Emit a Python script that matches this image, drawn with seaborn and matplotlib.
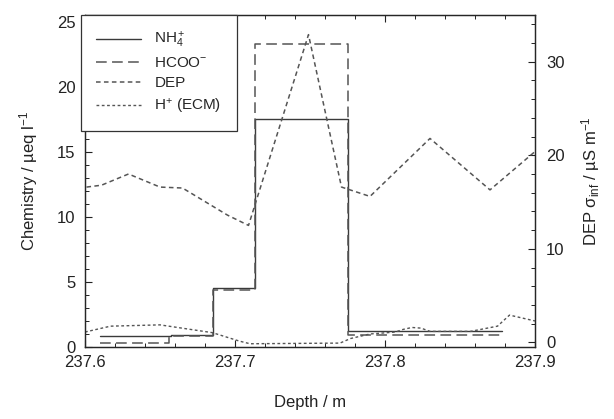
import numpy as np
import pandas as pd
import matplotlib
matplotlib.use("Agg")
import matplotlib.pyplot as plt
from matplotlib.ticker import MultipleLocator, FixedLocator
import seaborn as sns

# ---- data ----
nh4_depth = [237.610, 237.657, 237.685, 237.713, 237.775, 237.878]
nh4_value = [0.85, 0.95, 4.55, 17.5, 1.2, 1.2]

hcoo_depth = [237.610, 237.656, 237.685, 237.713, 237.775, 237.877]
hcoo_value = [0.3, 0.85, 4.4, 23.3, 0.9, 0.9]

dep_depth = [237.601, 237.611, 237.629, 237.650, 237.665, 237.695, 237.709,
             237.749, 237.771, 237.790, 237.830, 237.870, 237.900]
dep_value = [16.6, 16.8, 18.0, 16.6, 16.5, 13.6, 12.5,
             32.9, 16.6, 15.6, 21.8, 16.3, 20.4]

h_depth = [237.600, 237.617, 237.650, 237.685, 237.703, 237.710, 237.770,
           237.777, 237.790, 237.807, 237.812, 237.818, 237.824, 237.830,
           237.857, 237.875, 237.883, 237.900]
h_value = [1.15, 1.6, 1.7, 1.1, 0.45, 0.25, 0.3,
           0.65, 1.0, 1.15, 1.35, 1.5, 1.45, 1.2,
           1.2, 1.6, 2.45, 2.0]

x_ticks = [237.6, 237.7, 237.8, 237.9]
x_tick_labels = ["237.6", "237.7", "237.8", "237.9"]
left_ticks = [0, 5, 10, 15, 20, 25]
right_ticks = [0, 10, 20, 30]

# ---- style ----
sns.set_style("ticks")
plt.rcParams["font.family"] = ["Liberation Sans", "DejaVu Sans"]
plt.rcParams["mathtext.fontset"] = "custom"
plt.rcParams["mathtext.rm"] = "Liberation Sans"
plt.rcParams["mathtext.it"] = "Liberation Sans:italic"
plt.rcParams["axes.linewidth"] = 0.9

fig = plt.figure(figsize=(6.14, 4.19), dpi=100)
ax = fig.add_axes([85/614, 1-347/419, 450/614, (347-15)/419])
ax2 = ax.twinx()

dark = "#3a3a3a"
mid = "#555555"

sns.lineplot(x=nh4_depth, y=nh4_value, ax=ax, color=dark, lw=1.0,
             drawstyle="steps-post", label="NH$_4^+$", legend=False)
sns.lineplot(x=hcoo_depth, y=hcoo_value, ax=ax, color=mid, lw=1.1,
             drawstyle="steps-post", linestyle=(0, (7, 3.5)), label="HCOO$^{-}$", legend=False)
sns.lineplot(x=dep_depth, y=dep_value, ax=ax2, color=mid, lw=1.1,
             linestyle=(0, (3, 2.2)), label="DEP", legend=False)
sns.lineplot(x=h_depth, y=h_value, ax=ax, color=mid, lw=1.0,
             linestyle=(0, (2, 1.8)), label="H$^{+}$ (ECM)", legend=False)

ax.set_xlim(237.6, 237.9)
ax.set_ylim(0, 25.5)
ax2.set_ylim(-0.5, 35)

ax.xaxis.set_major_locator(FixedLocator(x_ticks))
ax.set_xticklabels(x_tick_labels)
ax.xaxis.set_minor_locator(MultipleLocator(0.02))
ax.yaxis.set_major_locator(FixedLocator(left_ticks))
ax.yaxis.set_minor_locator(MultipleLocator(1))
ax2.yaxis.set_major_locator(FixedLocator(right_ticks))
ax2.yaxis.set_minor_locator(MultipleLocator(2))

ax.tick_params(axis="both", which="both", direction="in", top=True, right=False,
               labelsize=12, colors="#222222")
ax.tick_params(axis="both", which="major", length=5, width=0.8)
ax.tick_params(axis="both", which="minor", length=3, width=0.7)
ax.tick_params(axis="x", pad=6)
ax.tick_params(axis="y", pad=7)
ax2.tick_params(axis="y", which="both", direction="in", labelsize=12, pad=8, colors="#222222")
ax2.tick_params(axis="y", which="major", length=5, width=0.8)
ax2.tick_params(axis="y", which="minor", length=3, width=0.7)

ax.set_xlabel("Depth / m", fontsize=12, labelpad=18, color="#222222")
ax.set_ylabel("Chemistry / µeq l$^{-1}$", fontsize=12, labelpad=12, color="#222222")
ax2.set_ylabel("DEP σ$_{\\mathrm{inf}}$ / µS m$^{-1}$", fontsize=12, labelpad=10, color="#222222")

for sp in list(ax.spines.values()):
    sp.set_color("#333333")

h1, l1 = ax.get_legend_handles_labels()
h2, l2 = ax2.get_legend_handles_labels()
handles = [h1[0], h1[1], h2[0], h1[2]]
labels = [l1[0], l1[1], l2[0], l1[2]]
leg = ax2.legend(handles, labels, loc="upper left", bbox_to_anchor=(-0.009, 1.0),
                 borderaxespad=0, fontsize=11, frameon=True, fancybox=False,
                 edgecolor="#333333", framealpha=1, handlelength=2.9,
                 handletextpad=0.9, labelspacing=0.4, borderpad=1.0)
leg.get_frame().set_linewidth(0.9)

fig.savefig("out.png", dpi=100)
